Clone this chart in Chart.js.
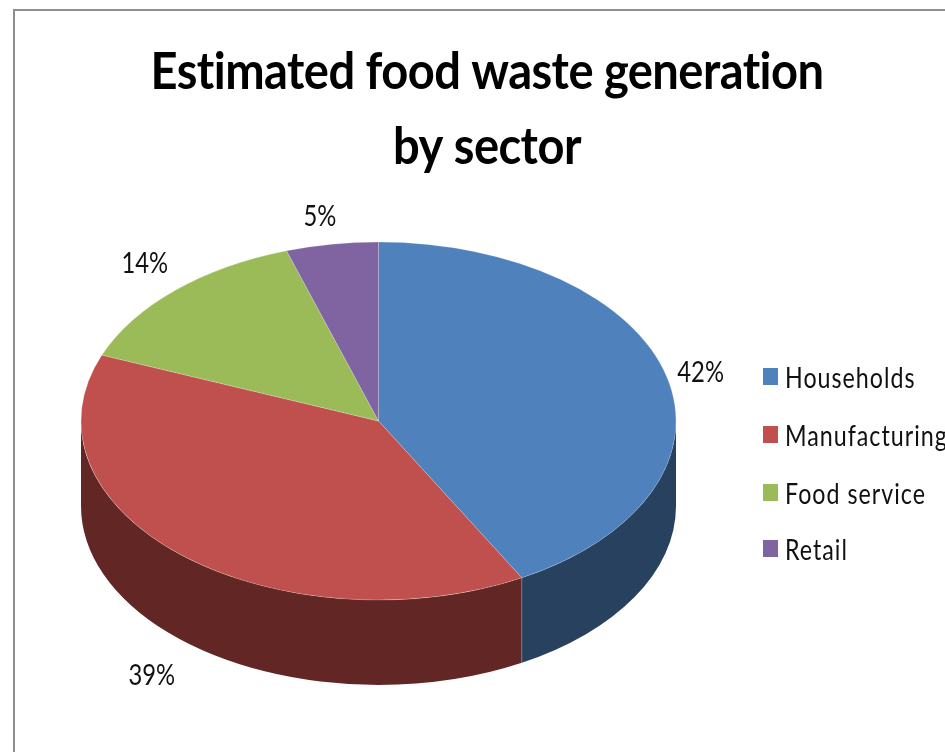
<!DOCTYPE html>
<html lang="en">
<head>
<meta charset="UTF-8">
<title>Estimated food waste generation by sector</title>
<script src="https://cdn.jsdelivr.net/npm/chart.js@4"></script>
<style>
    html, body { margin: 0; height: 100%; background: #fff; overflow: hidden; }
    #frame { position: absolute; left: 13px; top: 9px; width: 1000px; height: 800px; border-left: 2px solid #8e8e8e; border-top: 2px solid #8e8e8e; }
    #chart { position: absolute; left: 0; top: 0; }
</style>
</head>
<body>
<div id="frame"></div>
<canvas id="chart" width="974" height="752"></canvas>
<script>
const titleLines = ['Estimated food waste generation', 'by sector'];
const categories = ['Households', 'Manufacturing', 'Food service', 'Retail'];
const shares = [42, 39, 14, 5];
const topColors = ['#4f81bd', '#c0504d', '#9bbb59', '#8064a2'];
const sideColors = ['#28415f', '#622725', '#4e5e2d', '#403251'];

// pie placement on the page
const PIE = { x: 378.5, y: 421, rx: 297.5, ry: 179, depth: 85 };

// outside-end label nudges, from the rim point of each slice
const labelNudge = [[34, -4], [-30, 36], [-30, -27], [-12, -27]];
const legendBox = { x: 763, w: 15, h: 17, rows: [376.5, 434.5, 492.5, 548.5] };
const LABEL_FONT = '28px Lato';
const TITLE_CENTER = 487;

function squash(ctx, el) {
    ctx.translate(PIE.x, PIE.y);
    ctx.scale(1, PIE.ry / PIE.rx);
    ctx.translate(-el.x, -el.y);
}

// Lato runs wider than the condensed look wanted here, so text gets narrowed
function narrowText(ctx, text, x, y, sx) {
    ctx.save();
    ctx.translate(x, y);
    ctx.scale(sx, 1);
    ctx.fillText(text, 0, 0);
    ctx.restore();
}

// tilts the flat pie and gives it a rim
const tiltedPie = {
    id: 'tiltedPie',
    beforeDraw(chart) {
        const ctx = chart.ctx;
        ctx.save();
        ctx.letterSpacing = '-0.6px';
        ctx.translate(TITLE_CENTER, 0);
        ctx.scale(0.905, 1);
        ctx.translate(-TITLE_CENTER, 0);
    },
    beforeDatasetsDraw(chart) {
        const ctx = chart.ctx;
        ctx.restore();

        const arcs = chart.getDatasetMeta(0).data;
        const first = arcs[0];
        const k = PIE.ry / PIE.rx;

        ctx.save();
        squash(ctx, first);
        arcs.forEach((arc, i) => {
            const a = Math.max(arc.startAngle, 0);
            const b = Math.min(arc.endAngle, Math.PI);
            if (a >= b) return;
            ctx.beginPath();
            ctx.arc(arc.x, arc.y, arc.outerRadius, a, b);
            ctx.arc(arc.x, arc.y + PIE.depth / k, arc.outerRadius, b, a, true);
            ctx.closePath();
            ctx.fillStyle = sideColors[i];
            ctx.fill();
        });
        // seam between the two visible rim pieces
        arcs.forEach(arc => {
            if (arc.endAngle <= 0 || arc.endAngle >= Math.PI) return;
            const sx = arc.x + Math.cos(arc.endAngle) * arc.outerRadius;
            const sy = arc.y + Math.sin(arc.endAngle) * arc.outerRadius;
            ctx.beginPath();
            ctx.moveTo(sx, sy);
            ctx.lineTo(sx, sy + PIE.depth / k);
            ctx.strokeStyle = 'rgba(255,255,255,0.3)';
            ctx.lineWidth = 1;
            ctx.stroke();
        });
        ctx.restore();

        // restored again in afterDatasetsDraw
        ctx.save();
        squash(ctx, first);
    },
    afterDatasetsDraw(chart) {
        const ctx = chart.ctx;
        ctx.restore();

        const arcs = chart.getDatasetMeta(0).data;
        ctx.save();
        ctx.font = LABEL_FONT;
        ctx.fillStyle = '#111';
        ctx.textAlign = 'center';
        ctx.textBaseline = 'middle';
        arcs.forEach((arc, i) => {
            const mid = (arc.startAngle + arc.endAngle) / 2;
            const x = PIE.x + Math.cos(mid) * PIE.rx + labelNudge[i][0];
            const y = PIE.y + Math.sin(mid) * PIE.ry + labelNudge[i][1] + (Math.sin(mid) > 0 ? PIE.depth : 0);
            narrowText(ctx, shares[i] + '%', x, y, 0.85);
        });

        // legend column
        ctx.textAlign = 'left';
        ctx.letterSpacing = '1.2px';
        categories.forEach((name, i) => {
            const y = legendBox.rows[i];
            ctx.fillStyle = topColors[i];
            ctx.fillRect(legendBox.x, y - legendBox.h / 2, legendBox.w, legendBox.h);
            ctx.fillStyle = '#111';
            narrowText(ctx, name, legendBox.x + legendBox.w + 7, y + 2, 0.83);
        });
        ctx.restore();
    }
};

new Chart(document.getElementById('chart'), {
    type: 'pie',
    data: {
        labels: categories,
        datasets: [{
            data: shares,
            backgroundColor: topColors,
            borderColor: 'rgba(255,255,255,0.25)',
            borderWidth: 1,
            clip: false
        }]
    },
    options: {
        responsive: false,
        animation: false,
        events: [],
        radius: PIE.rx,
        plugins: {
            legend: { display: false },
            tooltip: { enabled: false },
            title: {
                display: true,
                text: titleLines,
                color: '#000',
                font: { family: 'Lato', size: 52, weight: 'bold', lineHeight: 1.44 },
                padding: { top: 35, bottom: 0 }
            }
        }
    },
    plugins: [tiltedPie]
});
</script>
</body>
</html>
